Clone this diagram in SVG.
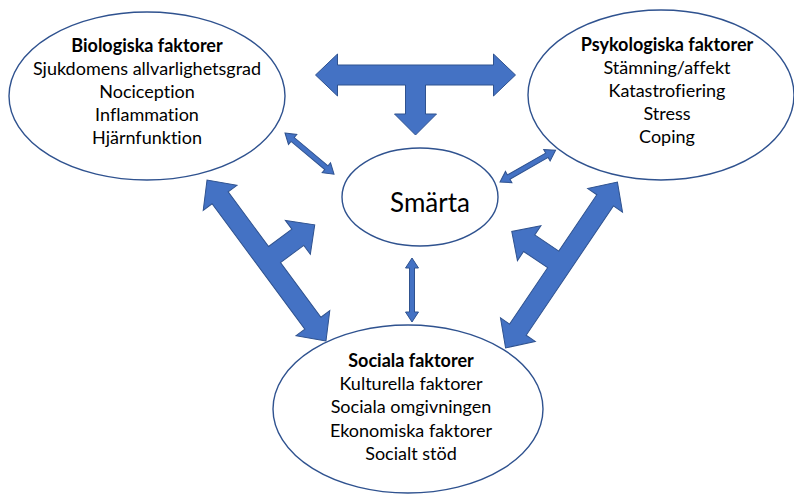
<svg xmlns="http://www.w3.org/2000/svg" width="794" height="494" viewBox="0 0 794 494">
<defs>
<style>
.ell{fill:#fff;stroke:#2F528F;stroke-width:1.4}
.arr{fill:#4472C4;stroke:#2F528F;stroke-width:1}
.t{font-family:Lato,"Open Sans","Liberation Sans",sans-serif;font-size:18px;fill:#000;text-anchor:middle;font-variant-ligatures:none}
.b{font-weight:bold;font-size:18px}
.big{font-size:26px}
</style>
<path id="tArrow" d="M-100,0 L-78,-21 L-78,-10 L78,-10 L78,-21 L100,0 L78,21 L78,10 L10,10 L10,39 L21,39 L0,60 L-21,39 L-10,39 L-10,10 L-78,10 L-78,21 Z"/>
<path id="dArrow" d="M0,0 L10,-6.5 L10,-2.5 L54,-2.5 L54,-6.5 L64,0 L54,6.5 L54,2.5 L10,2.5 L10,6.5 Z"/>
</defs>
<rect width="794" height="494" fill="#fff"/>
<g id="connectors">
<use href="#tArrow" class="arr" transform="translate(415.5,75)"/>
<use href="#tArrow" class="arr" transform="translate(266.5,260.5) rotate(-126.5)"/>
<use href="#tArrow" class="arr" transform="translate(561.5,265) rotate(124)"/>
<use href="#dArrow" class="arr" transform="translate(285,133) rotate(40)"/>
<use href="#dArrow" class="arr" transform="translate(500,182) rotate(-29.7)"/>
<use href="#dArrow" class="arr" transform="translate(412,258) rotate(90)"/>
</g>
<g id="bio">
<ellipse class="ell" cx="147" cy="96" rx="138" ry="84"/>
<text class="t b" x="147" y="52">Biologiska faktorer</text>
<text class="t" x="147" y="75">Sjukdomens allvarlighetsgrad</text>
<text class="t" x="147" y="98">Nociception</text>
<text class="t" x="147" y="121">Inflammation</text>
<text class="t" x="147" y="144">Hjärnfunktion</text>
</g>
<g id="psyk">
<ellipse class="ell" cx="661" cy="95" rx="133" ry="85"/>
<text class="t b" x="667" y="51">Psykologiska faktorer</text>
<text class="t" x="667" y="74">Stämning/affekt</text>
<text class="t" x="667" y="97">Katastrofiering</text>
<text class="t" x="667" y="120">Stress</text>
<text class="t" x="667" y="143">Coping</text>
</g>
<g id="smarta">
<ellipse class="ell" cx="420" cy="197" rx="78" ry="49"/>
<text class="t big" x="430" y="212">Smärta</text>
</g>
<g id="social">
<ellipse class="ell" cx="408" cy="409" rx="135" ry="84"/>
<text class="t b" x="411" y="367">Sociala faktorer</text>
<text class="t" x="411" y="390">Kulturella faktorer</text>
<text class="t" x="411" y="413">Sociala omgivningen</text>
<text class="t" x="411" y="437">Ekonomiska faktorer</text>
<text class="t" x="411" y="460">Socialt stöd</text>
</g>
</svg>
